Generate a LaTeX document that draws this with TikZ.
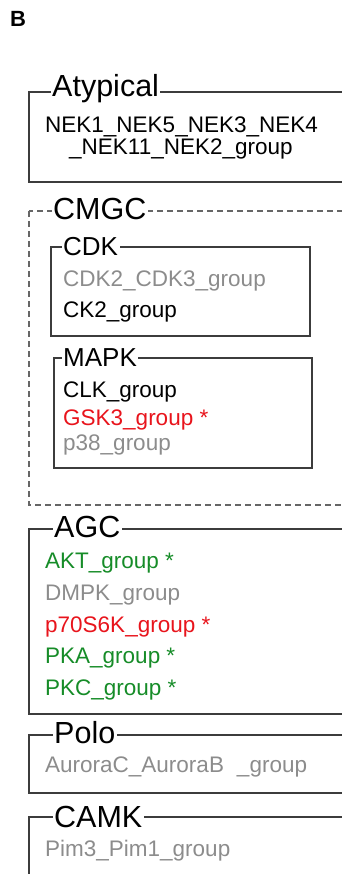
\documentclass[tikz,border=0pt]{standalone}
\usepackage{fontspec}
\setmainfont{Liberation Sans}
\definecolor{txtgray}{RGB}{140,140,140}
\definecolor{txtred}{RGB}{232,20,28}
\definecolor{txtgreen}{RGB}{22,140,40}
\definecolor{linegray}{RGB}{60,60,60}
\begin{document}
\begin{tikzpicture}[x=1pt,y=-1pt,
  boxline/.style={draw=linegray, line width=1.2pt},
  dashbox/.style={draw=black!60, line width=1.1pt, dash pattern=on 6pt off 4pt},
  grouptitle/.style={fill=white, inner xsep=1.5pt, inner ysep=0pt, anchor=base west, font=\fontsize{30.5}{30.5}\selectfont},
  subtitle/.style={grouptitle, font=\fontsize{26}{26}\selectfont},
  item/.style={anchor=base west, inner sep=0pt, font=\fontsize{22.5}{22.5}\selectfont}]
\useasboundingbox (0,0) rectangle (342,874);
\clip (0,0) rectangle (342,874);
\node[anchor=base west, inner sep=0pt, font=\fontsize{22}{22}\selectfont\bfseries] (lblB) at (10,27) {B};

% Atypical
\draw[boxline] (29,92) rectangle (352,182);
\node[grouptitle] (atyp) at (50.5,97) {Atypical};
\node[item] (nek1) at (45,133) {NEK1\_NEK5\_NEK3\_NEK4};
\node[item] (nek2) at (69,155) {\_NEK11\_NEK2\_group};

% CMGC
\draw[dashbox] (29,211) rectangle (352,505);
\node[grouptitle] (cmgc) at (51.5,220) {CMGC};
\draw[boxline] (51,247) rectangle (310,336);
\node[subtitle] (cdk) at (61.5,255) {CDK};
\node[item, text=txtgray] (cdk23) at (63,287) {CDK2\_CDK3\_group};
\node[item] (ck2) at (63,317) {CK2\_group};
\draw[boxline] (54,358) rectangle (312,468);
\node[subtitle] (mapk) at (61.5,366) {MAPK};
\node[item] (clk) at (63,397) {CLK\_group};
\node[item, text=txtred] (gsk3) at (63,425) {GSK3\_group *};
\node[item, text=txtgray] (p38) at (63,450) {p38\_group};

% AGC
\draw[boxline] (29,529) rectangle (352,714);
\node[grouptitle] (agc) at (52.5,537) {AGC};
\node[item, text=txtgreen] (akt) at (45,568) {AKT\_group *};
\node[item, text=txtgray] (dmpk) at (45,600) {DMPK\_group};
\node[item, text=txtred] (p70) at (45,632) {p70S6K\_group *};
\node[item, text=txtgreen] (pka) at (45,663) {PKA\_group *};
\node[item, text=txtgreen] (pkc) at (45,695) {PKC\_group *};

% Polo
\draw[boxline] (29,735) rectangle (352,793);
\node[grouptitle] (polo) at (52.5,743) {Polo};
\node[item, text=txtgray] (aurora) at (45,772) {AuroraC\_AuroraB\hspace{13pt}\_group};

% CAMK
\draw[boxline] (29,817) rectangle (352,900);
\node[grouptitle] (camk) at (52.5,827) {CAMK};
\node[item, text=txtgray] (pim) at (45,856) {Pim3\_Pim1\_group};
\end{tikzpicture}
\end{document}
